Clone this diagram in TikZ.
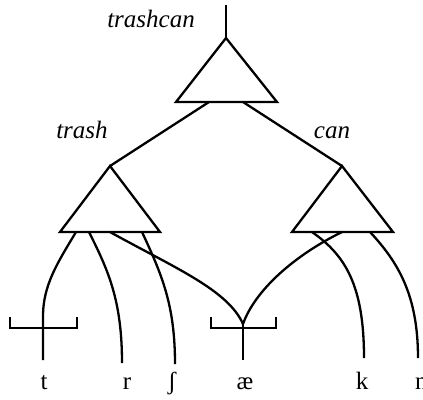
\documentclass[tikz,border=0pt]{standalone}
\usepackage{fontspec}
\setmainfont{Liberation Serif}
\begin{document}
\begin{tikzpicture}[x=1pt,y=-1pt,
  line width=2.3pt, line join=miter,
  edge/.style={line width=2.3pt},
  bracket/.style={line width=2.6pt},
  morph/.style={font=\fontsize{25}{30}\selectfont\itshape, anchor=base, inner sep=0pt},
  seg/.style={font=\fontsize{25}{30}\selectfont, anchor=base, inner sep=0pt}]
\useasboundingbox (0,0) rectangle (423,399);

% word-level triangle
\coordinate (topend) at (226,5);
\coordinate (wApex) at (226,38);
\coordinate (wL) at (176,102);
\coordinate (wR) at (277,102);
\coordinate (wOutL) at (209,102);
\coordinate (wOutR) at (243,102);

% morpheme triangles
\coordinate (tApex) at (110,166);
\coordinate (tL) at (60,232);
\coordinate (tR) at (160,232);
\coordinate (cApex) at (342,166);
\coordinate (cL) at (292,232);
\coordinate (cR) at (393,232);

% outlets on the base of each morpheme triangle
\coordinate (o1) at (76,232);
\coordinate (o2) at (89,232);
\coordinate (o3) at (110,232);
\coordinate (o4) at (142,232);
\coordinate (o5) at (312,232);
\coordinate (o6) at (342,232);
\coordinate (o7) at (370,232);

% timing slots
\coordinate (s1) at (43,316);
\coordinate (s1b) at (43,360);
\coordinate (s2) at (122,363);
\coordinate (s3) at (175,364);
\coordinate (s4) at (243,324);
\coordinate (s4b) at (243,360);
\coordinate (s5) at (364,358);
\coordinate (s6) at (418,358);

\draw[edge] (topend) -- (wApex);
\draw[edge] (wApex) -- (wL) -- (wR) -- cycle;
\draw[edge] (tApex) -- (tL) -- (tR) -- cycle;
\draw[edge] (cApex) -- (cL) -- (cR) -- cycle;
\draw[edge] (wOutL) -- (tApex);
\draw[edge] (wOutR) -- (cApex);

% association lines
\draw[edge] (o1) .. controls (58,262) and (43,285) .. (s1) -- (s1b);
\draw[edge] (o2) .. controls (108,270) and (122,300) .. (s2);
\draw[edge] (o4) .. controls (162,275) and (175,305) .. (s3);
\draw[edge] (o3) .. controls (175,268) and (228,290) .. (s4);
\draw[edge] (o6) .. controls (295,255) and (255,290) .. (s4);
\draw[edge] (s4) -- (s4b);
\draw[edge] (o5) .. controls (345,255) and (364,285) .. (s5);
\draw[edge] (o7) .. controls (398,262) and (418,295) .. (s6);

% brackets
\draw[bracket] (10,317) coordinate (b1a) -- (10,328) -- (77,328) -- (77,317) coordinate (b1b);
\draw[bracket] (211,317) coordinate (b2a) -- (211,328) -- (276,328) -- (276,317) coordinate (b2b);

% labels
\node[morph] (lwhole) at (151,27) {trashcan};
\node[morph] (ltrash) at (82,138) {trash};
\node[morph] (lcan) at (332,138) {can};

\node[seg] (pt) at (44,389) {t};
\node[seg] (pr) at (127,389) {r};
\node[seg] (psh) at (172,389) {ʃ};
\node[seg] (pae) at (245,389) {æ};
\node[seg] (pk) at (362,389) {k};
\node[seg, anchor=base west] (pn) at (414,389) {n};
\end{tikzpicture}
\end{document}
